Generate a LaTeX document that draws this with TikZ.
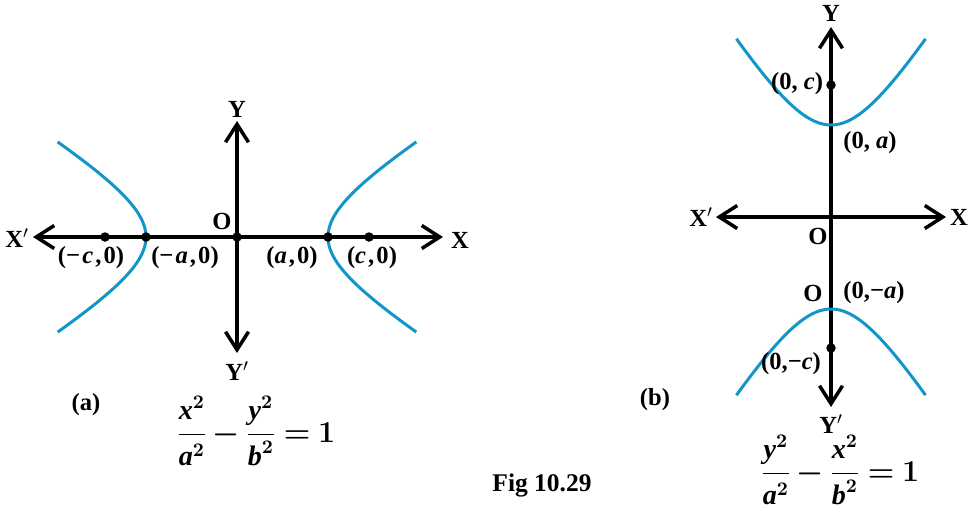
\documentclass[tikz,border=0pt]{standalone}
\usepackage{amsmath}
\usepackage{fontspec}
\setmainfont{Liberation Serif}
\usetikzlibrary{arrows.meta}
\definecolor{hypblue}{RGB}{18,150,200}
\newcommand{\bv}[1]{\textbf{\textit{#1}}}
\newcommand{\sk}{\kern1.2pt}
\newcommand{\tightmath}{\medmuskip=3mu\relax\thickmuskip=4mu\relax}
\tikzset{
  axis/.style={line width=2pt, -{Straight Barb[length=0.36cm, width=0.46cm, line width=2pt]}},
  branch/.style={hypblue, line width=1.7pt},
  dot/.style={circle, fill=black, inner sep=0pt, minimum size=0.19cm},
  lbl/.style={font=\fontsize{14}{16}\selectfont\bfseries, inner sep=1pt},
  eqn/.style={font=\fontsize{16}{19}\selectfont\bfseries\boldmath, inner sep=1pt},
}
\begin{document}
\begin{tikzpicture}[x=0.02cm, y=-0.02cm]
    \useasboundingbox (0, 0) rectangle (976, 511);

    % (a) horizontal hyperbola
    \coordinate (Oa) at (237, 237);
    \coordinate (Xa) at (443, 237);
    \coordinate (Xpa) at (33, 237);
    \coordinate (Ya) at (237, 121);
    \coordinate (Ypa) at (237, 353);
    \draw[axis] (Oa) -- (Xa);
    \draw[axis] (Oa) -- (Xpa);
    \draw[axis] (Oa) -- (Ya);
    \draw[axis] (Oa) -- (Ypa);

    \draw[branch, domain=-1.3:1.3, smooth, samples=60] plot ({237 + 91*cosh(\x)}, {237 + 56*sinh(\x)});
    \draw[branch, domain=-1.3:1.3, smooth, samples=60] plot ({237 - 91*cosh(\x)}, {237 + 56*sinh(\x)});

    \node[dot] (mca) at (105, 237) {};
    \node[dot] (maa) at (146, 237) {};
    \node[dot] (oa) at (Oa) {};
    \node[dot] (paa) at (328, 237) {};
    \node[dot] (pca) at (369, 237) {};

    \node[lbl] (labYa) at (237, 109) {Y};
    \node[lbl] (labYpa) at (237, 371) {Y$'$};
    \node[lbl] (labXpa) at (17, 238) {X$'$};
    \node[lbl] (labXa) at (460, 240) {X};
    \node[lbl] (labOa) at (222, 221) {O};
    \node[lbl] (labmc) at (91, 258) {(−\sk\bv{c}\sk,\sk0)};
    \node[lbl] (labma) at (185, 258) {(−\sk\bv{a}\sk,\sk0)};
    \node[lbl] (labpa) at (292, 258) {(\bv{a}\sk,\sk0)};
    \node[lbl] (labpc) at (372, 258) {(\bv{c}\sk,\sk0)};
    \node[lbl] (taga) at (86, 405) {(a)};
    \node[eqn] (eqa) at (256, 431) {$\tightmath\displaystyle\frac{\bv{x}^{2}}{\bv{a}^{2}} - \frac{\bv{y}^{2}}{\bv{b}^{2}} = 1$};

    % (b) vertical hyperbola
    \coordinate (Ob) at (831, 217);
    \coordinate (Xb) at (946, 217);
    \coordinate (Xpb) at (716, 217);
    \coordinate (Yb) at (831, 27);
    \coordinate (Ypb) at (831, 407);
    \draw[axis] (Ob) -- (Xb);
    \draw[axis] (Ob) -- (Xpb);
    \draw[axis] (Ob) -- (Yb);
    \draw[axis] (Ob) -- (Ypb);

    \draw[branch, domain=-1.28:1.28, smooth, samples=60] plot ({831 + 57*sinh(\x)}, {217 - 92*cosh(\x)});
    \draw[branch, domain=-1.28:1.28, smooth, samples=60] plot ({831 + 57*sinh(\x)}, {217 + 92*cosh(\x)});

    \node[dot] (pcb) at (831, 85) {};
    \node[dot] (mcb) at (831, 348) {};

    \node[lbl] (labYb) at (831, 13) {Y};
    \node[lbl] (labYpb) at (831, 424) {Y$'$};
    \node[lbl] (labXpb) at (701, 217) {X$'$};
    \node[lbl] (labXb) at (959, 217) {X};
    \node[lbl] (labOb) at (818, 236) {O};
    \node[lbl] (labOc) at (813, 293) {O};
    \node[lbl] (labpcb) at (797, 84) {(0, \bv{c})};
    \node[lbl] (labpab) at (870, 143) {(0, \bv{a})};
    \node[lbl] (labmab) at (874, 293) {(0,−\bv{a})};
    \node[lbl] (labmcb) at (791, 364) {(0,−\bv{c})};
    \node[lbl] (tagb) at (655, 400) {(b)};
    \node[eqn] (eqb) at (840, 470) {$\tightmath\displaystyle\frac{\bv{y}^{2}}{\bv{a}^{2}} - \frac{\bv{x}^{2}}{\bv{b}^{2}} = 1$};

    \node[lbl, font=\fontsize{14.5}{16}\selectfont\bfseries] (fig) at (542, 485) {Fig 10.29};
  \end{tikzpicture}
\end{document}
